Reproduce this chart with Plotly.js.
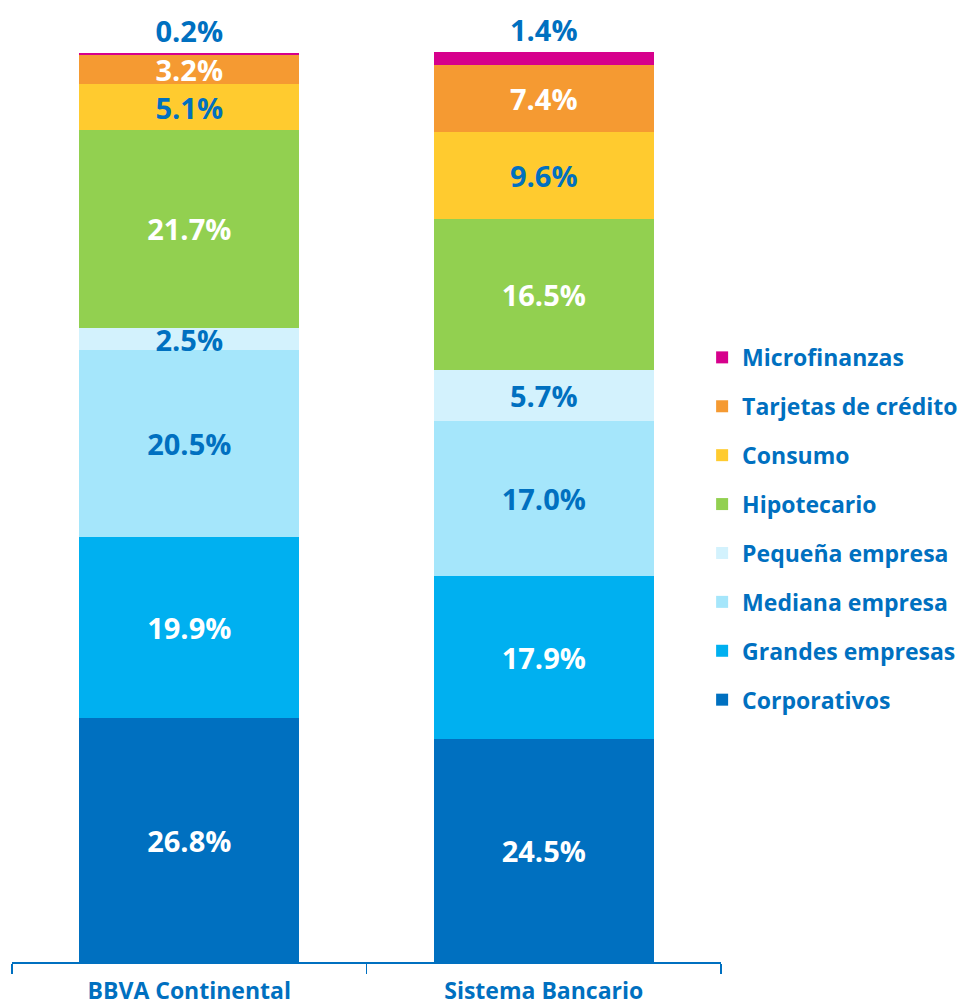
<!DOCTYPE html>
<html>
<head>
<meta charset="utf-8">
<script src="https://cdn.plot.ly/plotly-3.0.1.min.js"></script>
<style>
  html, body { margin: 0; padding: 0; background: #fff; }
  #chart { width: 974px; height: 1005px; }
</style>
</head>
<body>
<div id="chart"></div>
<script>
var banks = ['BBVA Continental', 'Sistema Bancario'];

// share of the loan book per segment, % (bottom of the stack first)
var corporativos   = [26.8, 24.5];
var grandes        = [19.9, 17.9];
var mediana        = [20.5, 17.0];
var pequena        = [2.5, 5.7];
var hipotecario    = [21.7, 16.5];
var consumo        = [5.1, 9.6];
var tarjetas       = [3.2, 7.4];
var microfinanzas  = [0.2, 1.4];

var segNames  = ['Corporativos', 'Grandes empresas', 'Mediana empresa', 'Pequeña empresa',
                 'Hipotecario', 'Consumo', 'Tarjetas de crédito', 'Microfinanzas'];
var segValues = [corporativos, grandes, mediana, pequena, hipotecario, consumo, tarjetas, microfinanzas];
var segColors = ['#0070C0', '#00B0F0', '#A5E6FB', '#D3F2FD', '#92D050', '#FFCB2F', '#F59A32', '#D6008C'];
var labelColors = ['#FFFFFF', '#FFFFFF', '#0070C0', '#0070C0', '#FFFFFF', '#0070C0', '#FFFFFF', '#0070C0'];

var blue = '#0070C0';
var fam = 'Open Sans, sans-serif';

var data = segNames.map(function (name, i) {
  var top = i === segNames.length - 1;
  return {
    type: 'bar',
    name: name,
    x: banks,
    y: segValues[i],
    text: segValues[i].map(function (v) { return v.toFixed(1) + '%'; }),
    textposition: top ? 'outside' : 'inside',
    insidetextanchor: 'middle',
    textangle: 0,
    constraintext: 'none',
    cliponaxis: false,
    textfont: { family: fam, size: 29, weight: 'bold', color: labelColors[i] },
    marker: { color: segColors[i], line: { width: 0 } },
    width: 0.62,
    legendgroup: 'g' + i,
    legendrank: 100 - i,
    hoverinfo: 'skip'
  };
});

var layout = {
  width: 974,
  height: 1005,
  margin: { l: 12, r: 252, t: 52, b: 43 },
  barmode: 'stack',
  bargap: 0,
  paper_bgcolor: '#fff',
  plot_bgcolor: '#fff',
  showlegend: true,
  legend: {
    xref: 'paper', yref: 'paper',
    x: 0.972, y: 0.688, xanchor: 'left', yanchor: 'top',
    traceorder: 'grouped',
    tracegroupgap: 16,
    font: { family: fam, size: 23, weight: 'bold', color: blue },
    bgcolor: 'rgba(0,0,0,0)'
  },
  xaxis: {
    showline: true,
    linecolor: blue,
    linewidth: 2,
    ticks: 'outside',
    tickson: 'boundaries',
    ticklen: 10,
    tickwidth: 1.5,
    tickcolor: blue,
    ticklabelstandoff: 7,
    showgrid: false,
    zeroline: false,
    tickfont: { family: fam, size: 23, weight: 'bold', color: blue },
    fixedrange: true
  },
  yaxis: {
    visible: false,
    range: [0, 100],
    fixedrange: true
  }
};

Plotly.newPlot('chart', data, layout, { displayModeBar: false, staticPlot: true });
</script>
</body>
</html>
